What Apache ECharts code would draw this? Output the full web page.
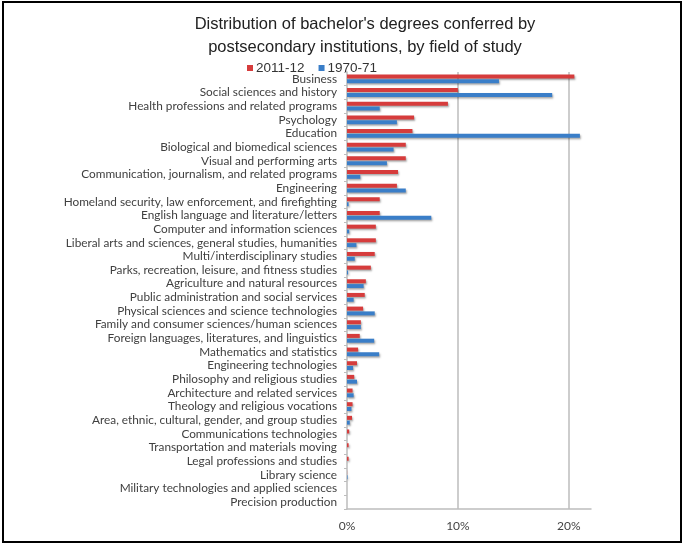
<!DOCTYPE html>
<html><head><meta charset="utf-8">
<script src="https://cdn.jsdelivr.net/npm/echarts@6/dist/echarts.min.js"></script>
<style>html,body{margin:0;padding:0;background:#fff}#c{width:685px;height:546px}</style>
</head><body><div id="c"></div>
<script>
const categories = ["Business","Social sciences and history","Health professions and related programs","Psychology","Education","Biological and biomedical sciences","Visual and performing arts","Communication, journalism, and related programs","Engineering","Homeland security, law enforcement, and firefighting","English language and literature/letters","Computer and information sciences","Liberal arts and sciences, general studies, humanities","Multi/interdisciplinary studies","Parks, recreation, leisure, and fitness studies","Agriculture and natural resources","Public administration and social services","Physical sciences and science technologies","Family and consumer sciences/human sciences","Foreign languages, literatures, and linguistics","Mathematics and statistics","Engineering technologies","Philosophy and religious studies","Architecture and related services","Theology and religious vocations","Area, ethnic, cultural, gender, and group studies","Communications technologies","Transportation and materials moving","Legal professions and studies","Library science","Military technologies and applied sciences","Precision production"];
const values2011 = [20.5,10.0,9.1,6.05,5.9,5.3,5.3,4.6,4.5,2.95,2.95,2.6,2.6,2.5,2.15,1.7,1.6,1.45,1.25,1.15,1.0,0.9,0.65,0.5,0.5,0.45,0.2,0.15,0.15,0.01,0.0,0.0];
const values1970 = [13.7,18.5,2.95,4.5,21.0,4.2,3.6,1.2,5.3,0.15,7.6,0.2,0.85,0.7,0.1,1.5,0.6,2.5,1.25,2.45,2.9,0.55,0.9,0.6,0.4,0.25,0.0,0.0,0.0,0.05,0.0,0.0];
const seriesNames = ["2011-12","1970-71"];
const xTicks = [0,10,20];

const chart = echarts.init(document.getElementById('c'), null, {renderer:'canvas'});
const shadow = {shadowColor:'rgba(0,0,0,0.35)', shadowBlur:2, shadowOffsetX:1, shadowOffsetY:1.5};
chart.setOption({
  animation:false,
  backgroundColor:'#fff',
  title:{
    text:"Distribution of bachelor's degrees conferred by\npostsecondary institutions, by field of study",
    left:360, textAlign:'center', top:8,
    textStyle:{fontFamily:'"Liberation Sans", Arial, sans-serif', fontSize:16.5, fontWeight:'normal', color:'#222', lineHeight:23}
  },
  legend:{
    data:seriesNames, left:242, top:56, itemWidth:6, itemHeight:6, itemGap:14, icon:'rect',
    textStyle:{fontFamily:'"Liberation Sans", Arial, sans-serif', fontSize:13.5, color:'#333', padding:[0,0,0,-2]}
  },
  graphic:[{type:'rect', shape:{x:3,y:2,width:678,height:540}, style:{fill:'none', stroke:'#000', lineWidth:2}, silent:true}],
  grid:{left:347, right:94, top:72, bottom:37},
  xAxis:{
    type:'value', min:0, max:22, interval:10,
    axisLine:{show:true, lineStyle:{color:'#bdbdbd', width:1.5}},
    axisTick:{show:false},
    splitLine:{show:true, showMinLine:false, showMaxLine:false, lineStyle:{color:'#bdbdbd', width:1.5}},
    axisLabel:{showMaxLabel:false, margin:11, fontFamily:'Lato, sans-serif', fontSize:12, color:'#444',
      formatter:v=> xTicks.indexOf(v)>=0 ? v+'%' : ''}
  },
  yAxis:{
    type:'category', data:categories, inverse:true,
    axisLine:{show:true, lineStyle:{color:'#bdbdbd', width:1.5}},
    axisTick:{show:true, length:3, lineStyle:{color:'#bdbdbd'}},
    axisLabel:{margin:10, fontFamily:'Lato, sans-serif', fontSize:11.8, color:'#404040', interval:0}
  },
  series:[
    {name:seriesNames[0], type:'bar', data:values2011, barWidth:4, barGap:'20%', itemStyle:Object.assign({color:'#D63C3C'},shadow)},
    {name:seriesNames[1], type:'bar', data:values1970, barWidth:4, barGap:'20%', itemStyle:Object.assign({color:'#3A7EC8'},shadow)}
  ]
});
</script></body></html>
